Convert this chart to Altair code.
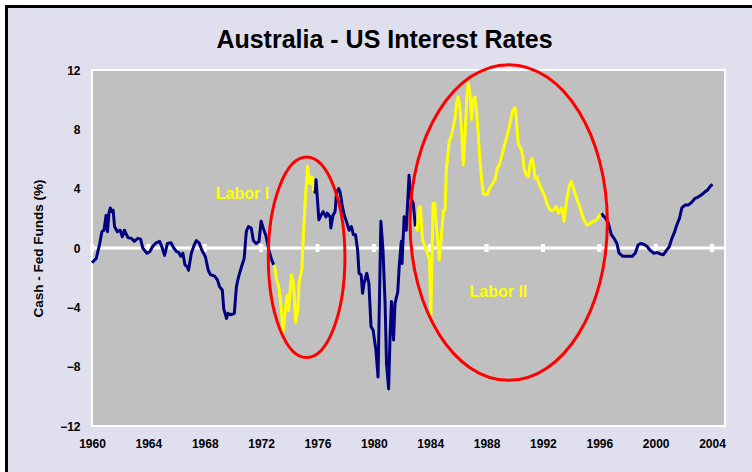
import altair as alt
import pandas as pd

# ---- data ----
years = [
    1960.00, 1960.30, 1960.55, 1960.70, 1960.85, 1961.00, 1961.10, 1961.20, 1961.30, 1961.40,
    1961.50, 1961.60, 1961.80, 1962.00, 1962.15, 1962.30, 1962.55, 1962.80, 1963.00, 1963.25,
    1963.45, 1963.60, 1963.90, 1964.10, 1964.30, 1964.55, 1964.80, 1964.95, 1965.15, 1965.35,
    1965.60, 1965.80, 1966.00, 1966.15, 1966.30, 1966.45, 1966.60, 1966.75, 1966.85, 1967.05,
    1967.25, 1967.40, 1967.60, 1967.80, 1968.05, 1968.25, 1968.40, 1968.70, 1968.90, 1969.05,
    1969.25, 1969.35, 1969.55, 1969.65, 1969.85, 1970.10, 1970.25, 1970.40, 1970.60, 1970.80,
    1970.95, 1971.10, 1971.30, 1971.45, 1971.65, 1971.85, 1972.00, 1972.15, 1972.35, 1972.55,
    1972.75, 1972.90,
    1972.95, 1973.10, 1973.25, 1973.40, 1973.55, 1973.75, 1973.85, 1973.95, 1974.15, 1974.30,
    1974.45, 1974.60, 1974.70, 1974.90, 1975.00, 1975.15, 1975.30, 1975.45, 1975.60, 1975.75,
    1975.85, 1975.90, 1976.00, 1976.10, 1976.25, 1976.40, 1976.60, 1976.70, 1976.90, 1976.95,
    1977.10, 1977.25, 1977.35, 1977.50, 1977.60, 1977.75, 1977.90, 1978.05, 1978.25, 1978.40,
    1978.55, 1978.70, 1978.85, 1978.95, 1979.10, 1979.20, 1979.30, 1979.50, 1979.65, 1979.80,
    1979.95, 1980.15, 1980.30, 1980.35, 1980.50, 1980.65, 1980.80, 1980.90, 1981.05, 1981.15,
    1981.25, 1981.40, 1981.50, 1981.70, 1981.80, 1981.95, 1982.00, 1982.15, 1982.30, 1982.50,
    1982.60, 1982.80, 1982.95,
    1983.08, 1983.20, 1983.30, 1983.45, 1983.60, 1983.75, 1983.95, 1984.05, 1984.12, 1984.20,
    1984.32, 1984.45, 1984.65, 1984.77, 1984.95, 1985.05, 1985.15, 1985.35, 1985.50, 1985.60,
    1985.75, 1985.87, 1985.98, 1986.10, 1986.22, 1986.35, 1986.47, 1986.60, 1986.70, 1986.82,
    1986.94, 1987.05, 1987.17, 1987.30, 1987.42, 1987.53, 1987.65, 1987.77, 1987.89, 1988.05,
    1988.20, 1988.37, 1988.60, 1988.77, 1988.91, 1989.08, 1989.25, 1989.44, 1989.67, 1989.86,
    1990.03, 1990.10, 1990.19, 1990.26, 1990.43, 1990.57, 1990.66, 1990.80, 1990.97, 1991.09,
    1991.21, 1991.32, 1991.44, 1991.56, 1991.68, 1991.80, 1991.99, 1992.15, 1992.32, 1992.51,
    1992.75, 1992.94, 1993.10, 1993.22, 1993.34, 1993.50, 1993.69, 1993.86, 1994.00, 1994.16,
    1994.35, 1994.52, 1994.69, 1994.87, 1995.11, 1995.35, 1995.58, 1995.82, 1996.00, 1996.17,
    1996.25,
    1996.45, 1996.65, 1996.85, 1997.05, 1997.25, 1997.40, 1997.65, 1998.00, 1998.35, 1998.55,
    1998.75, 1998.93, 1999.15, 1999.40, 1999.60, 1999.85, 2000.08, 2000.32, 2000.55, 2000.78,
    2000.97, 2001.15, 2001.31, 2001.50, 2001.69, 2001.86, 2002.10, 2002.33, 2002.57, 2002.80,
    2003.04, 2003.28, 2003.51, 2003.68, 2003.87, 2004.03,
]
spread = [
    -1.0, -0.7, 0.3, 1.1, 1.2, 2.2, 1.1, 2.35, 2.7, 2.45,
    2.55, 1.45, 1.1, 1.2, 0.75, 1.2, 0.7, 0.65, 0.45, 0.65,
    0.6, 0.0, -0.35, -0.25, 0.1, 0.35, 0.45, 0.1, -0.5, 0.3,
    0.35, 0.0, -0.25, -0.3, -0.55, -0.35, -1.15, -1.25, -1.5, -0.35,
    0.2, 0.5, 0.35, -0.15, -0.6, -1.5, -1.8, -1.9, -2.15, -2.6,
    -2.85, -4.1, -4.75, -4.4, -4.5, -4.4, -2.6, -1.95, -1.3, -0.7,
    1.1, 1.45, 1.35, 0.5, 0.3, 0.45, 1.8, 1.35, 0.8, -0.15,
    -0.8, -1.15,
    -1.2, -2.15, -2.6, -3.75, -5.65, -3.95, -3.2, -4.2, -1.8, -2.4,
    -5.0, -4.2, -2.3, -1.4, 0.9, 3.45, 5.5, 4.35, 4.8, 3.7,
    3.8, 4.6, 3.25, 1.9, 2.2, 2.45, 2.1, 2.35, 2.1, 1.35,
    2.2, 2.45, 3.7, 4.0, 3.8, 2.9, 2.2, 1.8, 1.2, 1.45,
    0.9, 0.9, -0.15, -1.7, -1.8, -3.05, -2.4, -1.7, -2.4, -5.3,
    -5.55, -6.9, -8.7, -6.0, 1.8, -0.15, -3.75, -7.8, -9.5, -6.0,
    -3.6, -6.2, -3.75, -2.95, -1.25, 0.45, -1.05, 2.1, 1.2, 4.9,
    3.45, 3.0, 1.45,
    1.2, 2.7, 2.8, 0.55, 0.2, -0.25, -0.8, -4.6, -0.8, 3.0,
    3.0, 1.45, -0.8, 0.55, 2.55, 2.55, 5.3, 7.2, 7.5, 8.0,
    8.65, 9.8, 10.2, 9.55, 8.0, 5.6, 7.5, 10.2, 11.1, 10.45,
    8.65, 10.0, 10.2, 9.1, 7.5, 5.95, 4.6, 3.7, 3.6, 3.6,
    4.0, 4.25, 4.6, 5.4, 5.6, 6.2, 6.85, 7.5, 8.4, 9.3,
    9.45, 8.9, 7.75, 6.95, 6.75, 6.2, 5.4, 4.95, 4.8, 5.7,
    6.05, 5.7, 4.7, 4.8, 4.5, 4.15, 3.8, 3.45, 2.9, 2.55,
    2.55, 2.8, 2.35, 2.55, 2.7, 1.8, 3.25, 4.15, 4.5, 4.05,
    3.45, 3.0, 2.55, 2.0, 1.55, 1.65, 1.8, 1.9, 2.2, 2.35,
    2.2,
    2.0, 1.65, 0.9, 0.65, 0.3, -0.35, -0.55, -0.55, -0.55, -0.35,
    0.2, 0.3, 0.25, 0.1, -0.15, -0.35, -0.3, -0.4, -0.45, -0.15,
    0.1, 0.65, 1.0, 1.55, 2.0, 2.7, 2.9, 2.9, 3.1, 3.35,
    3.45, 3.6, 3.8, 3.9, 4.15, 4.3,
]

# Labor government periods (start, end) drawn in yellow
labor_start = [1972.95, 1983.08]
labor_end = [1975.85, 1996.25]

# annotations
label_text = ["Labor I", "Labor II"]
label_year = [1970.68, 1988.84]
label_value = [3.65, -2.94]

ellipse_year = [1975.23, 1989.57]
ellipse_value = [-0.63, 1.72]
ellipse_half_width_yrs = [2.72, 7.0]
ellipse_half_height = [6.76, 10.64]

x_ticks = [1960, 1964, 1968, 1972, 1976, 1980, 1984, 1988, 1992, 1996, 2000, 2004]
y_ticks = [-12, -8, -4, 0, 4, 8, 12]

NAVY = "#000080"
YELLOW = "#ffff00"
BG = "#dfdfee"
PLOT_BG = "#c0c0c0"
FONT = "Liberation Sans"

W, H = 633, 356
X_DOMAIN = [1960, 2004.92]
Y_DOMAIN = [-12, 12]

# ---- build segmented line table ----
def is_labor(y):
    return any(s <= y < e for s, e in zip(labor_start, labor_end))

rows = []
seg = 0
prev = None
for yr, v in zip(years, spread):
    lab = is_labor(yr)
    if prev is not None and lab != prev[2]:
        seg += 1
        rows.append({"year": prev[0], "value": prev[1], "seg": seg,
                     "color": YELLOW if lab else NAVY})
    rows.append({"year": yr, "value": v, "seg": seg, "color": YELLOW if lab else NAVY})
    prev = (yr, v, lab)
line_df = pd.DataFrame(rows)

x_scale = alt.Scale(domain=X_DOMAIN, nice=False, zero=False)
y_scale = alt.Scale(domain=Y_DOMAIN, nice=False, zero=False)

x_axis = alt.Axis(values=x_ticks, format="d", title=None, grid=False, ticks=False,
                  domain=False, labelFont=FONT, labelFontWeight="bold", labelFontSize=12,
                  labelColor="black", labelPadding=12, labelFlush=False, labelOverlap=False)
y_axis = alt.Axis(values=y_ticks, format="d", title="Cash - Fed Funds (%)", grid=False,
                  ticks=False, domain=False, labelFont=FONT, labelFontWeight="bold",
                  labelFontSize=12, labelColor="black", labelPadding=12,
                  titleFont=FONT, titleFontWeight="bold", titleFontSize=13.5,
                  titleColor="black", titleX=-54, titleY=H / 2, titleAngle=-90,
                  titleAlign="center", titleBaseline="middle")

lines = alt.Chart(line_df).mark_line(strokeWidth=3, strokeJoin="round").encode(
    x=alt.X("year:Q", scale=x_scale, axis=x_axis),
    y=alt.Y("value:Q", scale=y_scale, axis=y_axis),
    color=alt.Color("color:N", scale=None),
    detail="seg:N",
    order="year:Q",
)

zero_df = pd.DataFrame({"y": [0]})
zero_line = alt.Chart(zero_df).mark_rule(color="white", strokeWidth=3).encode(
    y=alt.Y("y:Q", scale=y_scale), x=alt.value(0), x2=alt.value(W)
)
tick_df = pd.DataFrame({"year": x_ticks, "y": [0] * len(x_ticks)})
ticks = alt.Chart(tick_df).mark_tick(color="white", orient="vertical", thickness=4,
                                      size=8, opacity=1).encode(
    x=alt.X("year:Q", scale=x_scale), y=alt.Y("y:Q", scale=y_scale)
)

# ellipses (custom symbol shape, unit height)
px_per_year = W / (X_DOMAIN[1] - X_DOMAIN[0])
px_per_unit = H / (Y_DOMAIN[1] - Y_DOMAIN[0])

def ellipse_path(a):
    k = 0.5523
    return (f"M 0 -1 C {k*a:.4f} -1 {a:.4f} -{k:.4f} {a:.4f} 0 "
            f"C {a:.4f} {k:.4f} {k*a:.4f} 1 0 1 "
            f"C -{k*a:.4f} 1 -{a:.4f} {k:.4f} -{a:.4f} 0 "
            f"C -{a:.4f} -{k:.4f} -{k*a:.4f} -1 0 -1 Z")

ellipse_layers = []
for i in range(2):
    ry_px = ellipse_half_height[i] * px_per_unit
    rx_px = ellipse_half_width_yrs[i] * px_per_year
    e_df = pd.DataFrame({"year": [ellipse_year[i]], "value": [ellipse_value[i]]})
    ellipse_layers.append(
        alt.Chart(e_df).mark_point(shape=ellipse_path(rx_px / ry_px), filled=False,
                                   stroke="#ff0000", strokeWidth=3, opacity=1,
                                   size=(2 * ry_px) ** 2).encode(
            x=alt.X("year:Q", scale=x_scale), y=alt.Y("value:Q", scale=y_scale)
        )
    )

lab_df = pd.DataFrame({"text": label_text, "year": label_year, "value": label_value})
labels = alt.Chart(lab_df).mark_text(font=FONT, fontWeight="bold", fontSize=16,
                                     color=YELLOW, align="center", baseline="middle").encode(
    x=alt.X("year:Q", scale=x_scale), y=alt.Y("value:Q", scale=y_scale), text="text:N"
)

# outer frame: white margin and black border (kept inside the canvas area)
one = pd.DataFrame({"a": [0]})
white_margin = alt.Chart(one).mark_rect(fillOpacity=0, stroke="white", strokeWidth=10).encode(
    x=alt.value(-92), x2=alt.value(700), y=alt.value(-70), y2=alt.value(430)
)
black_frame = alt.Chart(one).mark_rect(fillOpacity=0, stroke="black", strokeWidth=3).encode(
    x=alt.value(-85.5), x2=alt.value(700), y=alt.value(-63.5), y2=alt.value(430)
)

chart = alt.layer(
    zero_line, ticks, lines, *ellipse_layers, labels, white_margin, black_frame
).properties(
    width=W, height=H,
    title=alt.TitleParams("Australia - US Interest Rates", font=FONT, fontSize=25,
                          fontWeight="bold", color="black", anchor="middle", dx=-24,
                          baseline="middle", offset=-70),
    background=BG,
    padding={"left": 92, "top": 70, "right": 27, "bottom": 46},
    autosize=alt.AutoSizeParams(type="none"),
).configure_view(fill=PLOT_BG, stroke="white", strokeWidth=2)

chart.save("out.html", embed_options={"renderer": "svg", "actions": False})
